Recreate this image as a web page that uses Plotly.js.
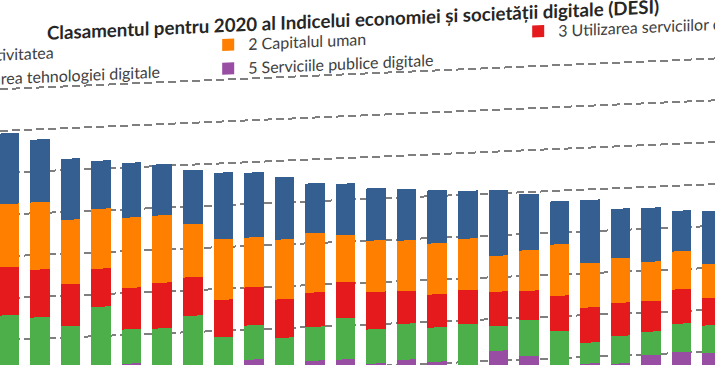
<!DOCTYPE html>
<html>
<head>
<meta charset="utf-8">
<script src="https://cdn.plot.ly/plotly-3.0.1.min.js"></script>
<style>
  html, body { margin: 0; padding: 0; background: #ffffff; overflow: hidden; width: 715px; height: 365px; }
  #wrap { position: absolute; left: -260px; top: 0; width: 975px; height: 440px; transform: skewY(-2.46deg); transform-origin: 260px 0; }
  #chart { width: 975px; height: 440px; }
</style>
</head>
<body>
<div id="wrap"><div id="chart"></div></div>
<script>
// Countries visible in the crop (DESI 2020 ranking, middle part)
const countries = ['DK','NL','MT','IE','EE','UK','BE','LU','ES','DE','AT','LT','UE','FR','SI','CZ','LV','PT','HR','HU','SK','PL','CY','IT'];

// Weighted dimension scores (stack order bottom -> top: 5, 4, 3, 2, 1)
const conectivitatea = [16.9, 15.0, 14.6, 11.5, 13.1, 12.2, 12.9, 15.9, 15.5, 14.9, 11.9, 12.3, 12.5, 12.3, 12.7, 11.4, 15.7, 13.4, 10.3, 15.1, 11.8, 12.9, 9.7, 12.6];
const capitalUman    = [15.1, 16.1, 15.4, 14.3, 16.8, 16.1, 12.7, 14.5, 11.9, 14.3, 14.2, 11.2, 12.3, 12.1, 12.2, 12.3, 8.6, 9.7, 12.3, 10.6, 10.7, 9.4, 9.1, 8.2];
const utilizarea     = [11.5, 11.4, 10.0, 9.1, 9.9, 10.9, 9.2, 8.9, 9.1, 9.2, 8.2, 8.6, 8.9, 7.8, 7.9, 8.1, 8.2, 7.0, 8.4, 8.4, 7.9, 7.3, 8.2, 6.5];
const integrarea     = [13.2, 13.1, 10.3, 15.7, 8.2, 10.2, 13.4, 7.7, 8.2, 7.8, 8.1, 9.9, 8.2, 8.6, 8.2, 10.4, 5.9, 8.6, 8.8, 5.0, 6.6, 5.6, 6.8, 6.6];
const serviciiPublice= [12.7, 12.0, 12.4, 11.3, 13.1, 11.0, 10.5, 10.8, 12.8, 9.9, 11.9, 11.9, 10.6, 11.2, 10.4, 8.7, 12.4, 10.8, 7.7, 8.4, 8.1, 9.8, 10.2, 9.7];

const seriesNames = ['5 Serviciile publice digitale', '4 Integrarea tehnologiei digitale', '3 Utilizarea serviciilor de internet', '2 Capitalul uman', '1 Conectivitatea'];
const seriesValues = [serviciiPublice, integrarea, utilizarea, capitalUman, conectivitatea];
const seriesColors = ['#984ea3', '#4daf4a', '#e41a1c', '#ff7f00', '#365f91'];

const traces = seriesNames.map((name, i) => ({
  type: 'bar',
  name: name,
  x: countries,
  y: seriesValues[i],
  marker: { color: seriesColors[i] }
}));

const layout = {
  width: 975,
  height: 440,
  barmode: 'stack',
  bargap: 0.36,
  paper_bgcolor: '#ffffff',
  plot_bgcolor: '#ffffff',
  margin: { l: 260, r: 0, t: 85, b: 16, autoexpand: false },
  font: { family: 'Lato, "Open Sans", sans-serif', color: '#404040' },
  title: {
    text: 'Clasamentul pentru 2020 al Indicelui economiei și societății digitale (DESI)',
    font: { family: 'Lato, sans-serif', size: 18.7, color: '#262626', weight: 'bold' },
    xref: 'paper', x: 0.0657, xanchor: 'left',
    yref: 'container', y: 0.920, yanchor: 'middle'
  },
  showlegend: true,
  legend: {
    orientation: 'h',
    traceorder: 'reversed',
    entrywidth: 265,
    x: -0.1424, xanchor: 'left',
    y: 1.14, yanchor: 'top',
    font: { family: 'Lato, sans-serif', size: 16, color: '#404040' },
    bgcolor: 'rgba(0,0,0,0)'
  },
  xaxis: {
    type: 'category',
    range: [-0.311, 23.094],
    showticklabels: false,
    showgrid: false,
    zeroline: false,
    showline: false,
    ticks: ''
  },
  yaxis: {
    range: [0, 81],
    dtick: 10,
    showticklabels: false,
    showgrid: true,
    gridcolor: '#7f7f7f',
    gridwidth: 2,
    griddash: '8px,4px',
    zeroline: false,
    showline: false,
    ticks: ''
  }
};

Plotly.newPlot('chart', traces, layout, { staticPlot: true, displayModeBar: false });
</script>
</body>
</html>
